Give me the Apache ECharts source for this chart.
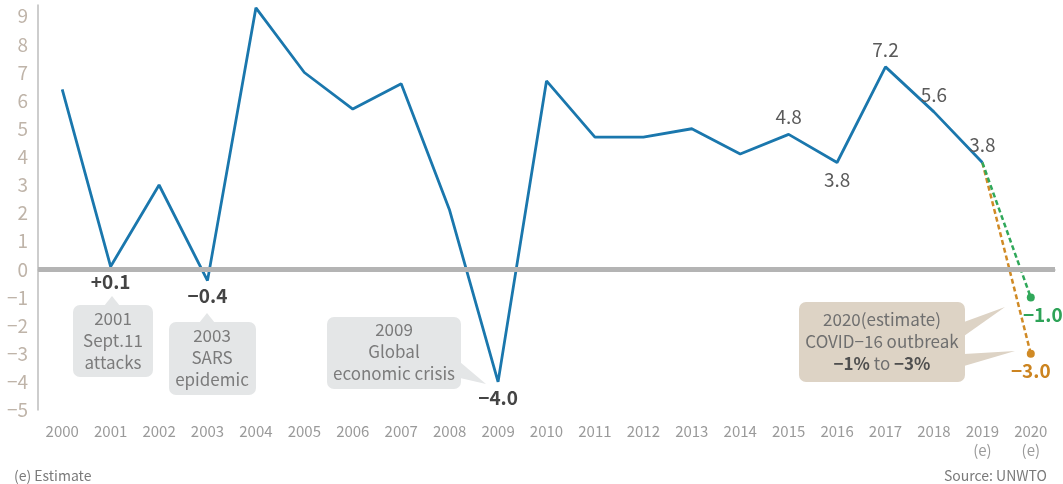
<!DOCTYPE html>
<html><head><meta charset="utf-8">
<script src="https://cdn.jsdelivr.net/npm/echarts@6/dist/echarts.min.js"></script>
<style>html,body{margin:0;padding:0;background:#fff}#c{width:1063px;height:484px}</style>
</head><body><div id="c"></div>
<script>
const years = ['2000','2001','2002','2003','2004','2005','2006','2007','2008','2009','2010','2011','2012','2013','2014','2015','2016','2017','2018','2019\n(e)','2020\n(e)'];
const growth = [6.4, 0.1, 3.0, -0.4, 9.3, 7.0, 5.7, 6.6, 2.1, -4.0, 6.7, 4.7, 4.7, 5.0, 4.1, 4.8, 3.8, 7.2, 5.6, 3.8, null];
const estimateLow = [null,null,null,null,null,null,null,null,null,null,null,null,null,null,null,null,null,null,null, 3.8, -1.0];
const estimateHigh = [null,null,null,null,null,null,null,null,null,null,null,null,null,null,null,null,null,null,null, 3.8, -3.0];
const yTicks = [-5,-4,-3,-2,-1,0,1,2,3,4,5,6,7,8,9];
// labelled points: index -> position
const labelled = {1:'below',3:'below',9:'below',15:'above',16:'below',17:'above',18:'above',19:'above'};

const FONT = '"Noto Sans CJK KR","Noto Sans",sans-serif';
const fmt = v => (v>0 && v<1 ? '+' : '') + (v<0 ? '\u2212' + Math.abs(v).toFixed(1) : v.toFixed(1));

const mainData = growth.map((v,i)=>{
  if (labelled[i]===undefined) return v;
  const bold = (i===1||i===3||i===9);
  return {value:v, label:{show:true, position:labelled[i]==='below'?'bottom':'top', distance: bold?6:8,
    formatter: fmt(v), fontWeight: bold?'bold':'normal', color: bold?'#444':'#5a5a5a'}};
});
const lowData = estimateLow.map((v,i)=> i===20 ? {value:v, symbol:'circle', symbolSize:8,
  label:{show:true, position:'bottom', distance:4, offset:[12,0], formatter:fmt(v), color:'#2ea358', fontWeight:'bold'}} : v);
const highData = estimateHigh.map((v,i)=> i===20 ? {value:v, symbol:'circle', symbolSize:8,
  label:{show:true, position:'bottom', distance:4, offset:[0,0], formatter:fmt(v), color:'#cc8420', fontWeight:'bold'}} : v);

const chart = echarts.init(document.getElementById('c'));
chart.setOption({
  animation:false,
  textStyle:{fontFamily:FONT},
  grid:{left:38, right:8, top:5, bottom:74, containLabel:false},
  xAxis:{type:'category', data:years, boundaryGap:true,
    axisLine:{show:true, lineStyle:{color:'#bdbdbd', width:1.5}},
    axisTick:{show:false},
    axisLabel:{color:'#9a9a9a', fontSize:15, margin:12, lineHeight:19, fontFamily:FONT, interval:0}},
  yAxis:{type:'value', min:-5, max:9.4, interval:1,
    axisLine:{show:true, lineStyle:{color:'#bdbdbd', width:1.5}},
    axisTick:{show:false}, splitLine:{show:false},
    axisLabel:{color:'#bfb4a9', fontSize:19, margin:10, fontFamily:FONT,
      formatter: v => yTicks.indexOf(Math.round(v*10)/10)>=0 ? (v<0?'\u2212'+Math.abs(v):String(v)) : ''}},
  series:[
    {type:'line', data:[], silent:true, z:1,
      markLine:{silent:true, symbol:['none','none'], label:{show:false},
        lineStyle:{color:'#b4b4b4', width:5, type:'solid'}, data:[{yAxis:0}]}},
    {type:'line', data:highData, z:3, symbol:'none', connectNulls:false, clip:false,
      lineStyle:{color:'#d08a25', width:2.5, type:[5,3]}, itemStyle:{color:'#d08a25'},
      label:{fontSize:19, fontFamily:FONT}},
    {type:'line', data:lowData, z:3, symbol:'none', clip:false,
      lineStyle:{color:'#30a85a', width:2.5, type:[5,3]}, itemStyle:{color:'#30a85a'},
      label:{fontSize:19, fontFamily:FONT}},
    {type:'line', data:mainData, z:4, symbol:'circle', symbolSize:0.1, showSymbol:true, clip:false,
      lineStyle:{color:'#1a77ad', width:2.8}, itemStyle:{color:'#1a77ad', opacity:1},
      label:{fontSize:19, fontFamily:FONT}}
  ],
  graphic:[
    {type:'rect', shape:{x:73,y:305,width:80,height:72,r:7}, style:{fill:'#e4e6e7'}},
    {type:'polygon', shape:{points:[[104,306],[120,306],[112,296]]}, style:{fill:'#e4e6e7'}},
    {type:'text', x:113, y:341, style:{text:'2001\nSept.11\nattacks', fill:'#7b7b7b', font:'17px '+FONT, align:'center', verticalAlign:'middle', lineHeight:22}},
    {type:'rect', shape:{x:169,y:322,width:87,height:73,r:7}, style:{fill:'#e4e6e7'}},
    {type:'polygon', shape:{points:[[199,323],[215,323],[207,313]]}, style:{fill:'#e4e6e7'}},
    {type:'text', x:212, y:358, style:{text:'2003\nSARS\nepidemic', fill:'#7b7b7b', font:'17px '+FONT, align:'center', verticalAlign:'middle', lineHeight:22}},
    {type:'rect', shape:{x:327,y:317,width:134,height:72,r:7}, style:{fill:'#e4e6e7'}},
    {type:'polygon', shape:{points:[[460,362],[460,378],[486,384]]}, style:{fill:'#e4e6e7'}},
    {type:'text', x:394, y:352, style:{text:'2009\nGlobal\neconomic crisis', fill:'#7b7b7b', font:'17px '+FONT, align:'center', verticalAlign:'middle', lineHeight:22}},
    {type:'rect', shape:{x:799,y:302,width:166,height:80,r:7}, style:{fill:'#ddd3c5'}},
    {type:'polygon', shape:{points:[[964,322],[964,336],[1005,307]]}, style:{fill:'#ddd3c5'}},
    {type:'polygon', shape:{points:[[964,354],[964,366],[1015,351]]}, style:{fill:'#ddd3c5'}},
    {type:'text', x:882, y:342, style:{text:'{n|2020(estimate)}\n{n|COVID\u221216 outbreak}\n{b|\u22121%}{n| to }{b|\u22123%}', align:'center', verticalAlign:'middle',
      rich:{n:{fill:'#6f6f6f', font:'17px '+FONT, lineHeight:22}, b:{fill:'#4f4f4f', font:'bold 17px '+FONT, lineHeight:22}}}},
    {type:'text', x:14, y:476, style:{text:'(e) Estimate', fill:'#7a7a7a', font:'14px '+FONT, verticalAlign:'middle'}},
    {type:'text', x:1047, y:476, style:{text:'Source: UNWTO', fill:'#7a7a7a', font:'14px '+FONT, align:'right', verticalAlign:'middle'}}
  ]
});
</script></body></html>
